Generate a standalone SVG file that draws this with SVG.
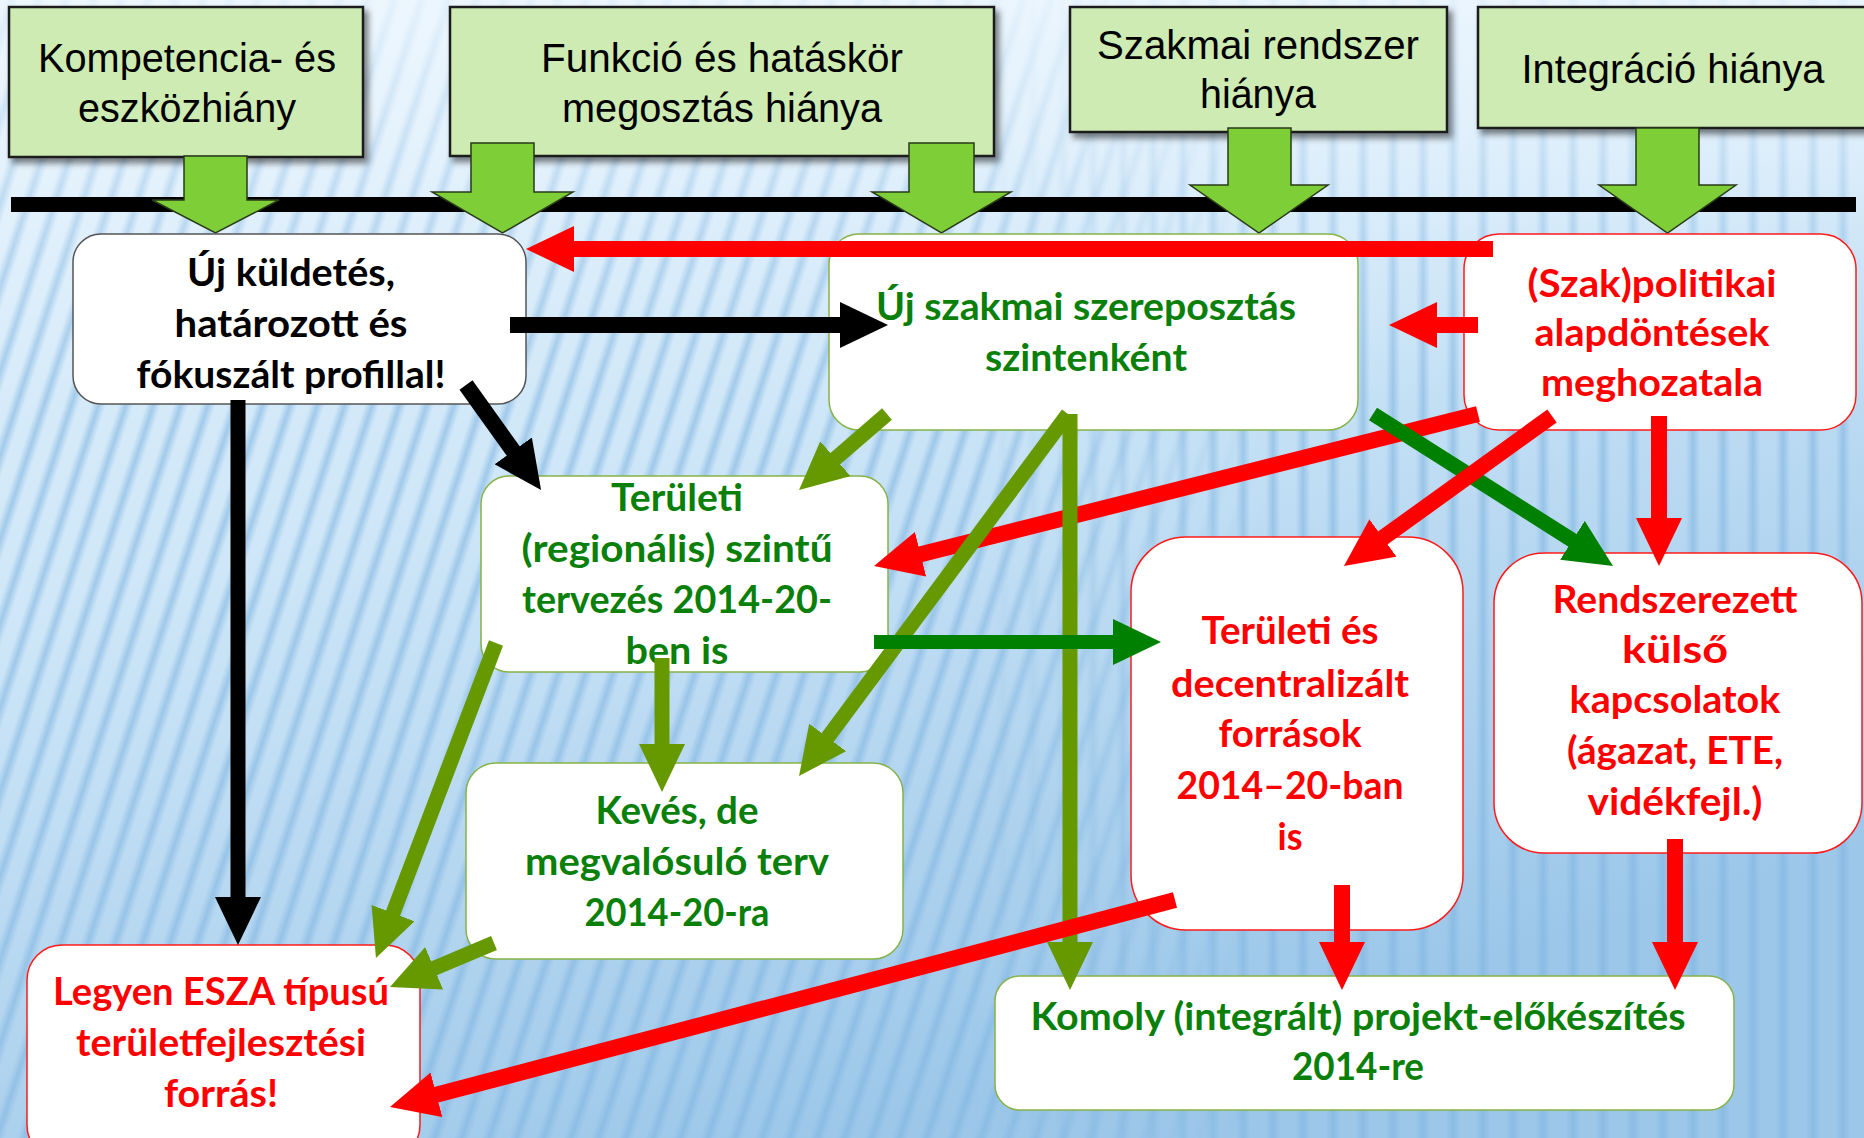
<svg xmlns="http://www.w3.org/2000/svg" width="1864" height="1138" viewBox="0 0 1864 1138">
<style>
.top{fill:#cdebb3;stroke:#1a1a1a;stroke-width:2.5;filter:url(#sh)}
.tt{font-family:"Liberation Sans",Arial,sans-serif;font-size:40px;fill:#000;text-anchor:middle}
.blk{fill:#7dce37;stroke:#2a3a1a;stroke-width:1.5}
.node{fill:#fff;stroke-width:1.5}
.gs{stroke:#86b347}
.rs{stroke:#ff1a1a}
.ks{stroke:#555}
.nt{font-family:Lato,"Open Sans",sans-serif;font-weight:bold;font-size:38px;text-anchor:middle}
.k{fill:#000}.g{fill:#0a7f0a}.r{fill:#ff0000}
.c{fill:none;stroke-linecap:butt}
.cr{stroke:#ff0000;stroke-width:16}
.ck{stroke:#000;stroke-width:16}
.co{stroke:#669900;stroke-width:15}
.cg{stroke:#008000;stroke-width:15}
</style>
<defs>
<linearGradient id="bg" x1="0" y1="0" x2="0.45" y2="1">
<stop offset="0" stop-color="#e4f2fc"/>
<stop offset="0.45" stop-color="#cfe7f8"/>
<stop offset="1" stop-color="#9cc7e9"/>
</linearGradient>
<linearGradient id="sg" x1="0" y1="0" x2="1" y2="0">
<stop offset="0" stop-color="#7fb4e0" stop-opacity="0"/>
<stop offset="0.5" stop-color="#7fb4e0" stop-opacity="0.6"/>
<stop offset="1" stop-color="#7fb4e0" stop-opacity="0"/>
</linearGradient>
<pattern id="pd" width="26" height="40" patternUnits="userSpaceOnUse" patternTransform="rotate(18)">
<rect x="4" y="0" width="14" height="40" fill="url(#sg)"/>
</pattern>
<pattern id="pv" width="30" height="40" patternUnits="userSpaceOnUse">
<rect x="6" y="0" width="14" height="40" fill="url(#sg)"/>
</pattern>
<linearGradient id="mg" x1="0" y1="0" x2="1" y2="0">
<stop offset="0" stop-color="#fff"/>
<stop offset="0.52" stop-color="#fff"/>
<stop offset="0.68" stop-color="#000"/>
<stop offset="1" stop-color="#000"/>
</linearGradient>
<linearGradient id="mg2" x1="0" y1="0" x2="1" y2="0">
<stop offset="0" stop-color="#000"/>
<stop offset="0.52" stop-color="#000"/>
<stop offset="0.68" stop-color="#fff"/>
<stop offset="1" stop-color="#fff"/>
</linearGradient>
<mask id="m1"><rect width="1864" height="1138" fill="url(#mg)"/></mask>
<mask id="m2"><rect width="1864" height="1138" fill="url(#mg2)"/></mask>
<linearGradient id="topfade" x1="0" y1="0" x2="0" y2="1">
<stop offset="0" stop-color="#eef7fe" stop-opacity="0.85"/>
<stop offset="0.22" stop-color="#eef7fe" stop-opacity="0.2"/>
<stop offset="0.35" stop-color="#eef7fe" stop-opacity="0"/>
</linearGradient>
<filter id="sh" x="-10%" y="-10%" width="130%" height="140%">
<feDropShadow dx="4" dy="5" stdDeviation="3" flood-color="#000" flood-opacity="0.5"/>
</filter>
<marker id="ar" markerUnits="userSpaceOnUse" markerWidth="48" markerHeight="46" viewBox="0 0 48 46" refX="8" refY="23" orient="auto"><path d="M0,0 L48,23 L0,46 z" fill="#ff0000"/></marker>
<marker id="ak" markerUnits="userSpaceOnUse" markerWidth="48" markerHeight="46" viewBox="0 0 48 46" refX="8" refY="23" orient="auto"><path d="M0,0 L48,23 L0,46 z" fill="#000"/></marker>
<marker id="ao" markerUnits="userSpaceOnUse" markerWidth="48" markerHeight="46" viewBox="0 0 48 46" refX="8" refY="23" orient="auto"><path d="M0,0 L48,23 L0,46 z" fill="#669900"/></marker>
<marker id="ag" markerUnits="userSpaceOnUse" markerWidth="48" markerHeight="46" viewBox="0 0 48 46" refX="8" refY="23" orient="auto"><path d="M0,0 L48,23 L0,46 z" fill="#008000"/></marker>
</defs>

<g id="background">
<rect width="1864" height="1138" fill="url(#bg)"/>
<rect width="1864" height="1138" fill="url(#pd)" mask="url(#m1)"/>
<rect width="1864" height="1138" fill="url(#pv)" mask="url(#m2)"/>
<rect width="1864" height="1138" fill="url(#topfade)"/>
</g>

<g id="causes">
<g id="cause-kompetencia">
<rect class="top" x="9" y="7" width="354" height="150"/>
<text class="tt" x="187" y="72" textLength="298" lengthAdjust="spacingAndGlyphs">Kompetencia- és</text>
<text class="tt" x="187" y="122" textLength="218" lengthAdjust="spacingAndGlyphs">eszközhiány</text>
</g>
<g id="cause-funkcio">
<rect class="top" x="450" y="7" width="544" height="149"/>
<text class="tt" x="722" y="72" textLength="362" lengthAdjust="spacingAndGlyphs">Funkció és hatáskör</text>
<text class="tt" x="722" y="122" textLength="320" lengthAdjust="spacingAndGlyphs">megosztás hiánya</text>
</g>
<g id="cause-szakmai">
<rect class="top" x="1070" y="7" width="377" height="125"/>
<text class="tt" x="1258" y="59" textLength="322" lengthAdjust="spacingAndGlyphs">Szakmai rendszer</text>
<text class="tt" x="1258" y="108" textLength="116" lengthAdjust="spacingAndGlyphs">hiánya</text>
</g>
<g id="cause-integracio">
<rect class="top" x="1478" y="7" width="400" height="121"/>
<text class="tt" x="1673" y="83" textLength="303" lengthAdjust="spacingAndGlyphs">Integráció hiánya</text>
</g>
</g>

<g id="bar">
<rect x="11" y="197" width="1845" height="15" fill="#000"/>
</g>

<g id="block-arrows">
<polygon class="blk" points="184,156 247,156 247,200 279,200 215.5,233 152,200 184,200"/>
<polygon class="blk" points="471,143 534,143 534,192 573,192 502.5,233 432,192 471,192"/>
<polygon class="blk" points="909,143 974,143 974,192 1011,192 941.5,233 872,192 909,192"/>
<polygon class="blk" points="1228,128 1291,128 1291,185 1328,185 1259,233 1190,185 1228,185"/>
<polygon class="blk" points="1636,128 1699,128 1699,185 1736,185 1667.5,233 1599,185 1636,185"/>
</g>

<g id="n1">
<rect class="node ks" x="73" y="234" width="453" height="170" rx="28"/>
<text class="nt k" x="291" y="286" textLength="208" lengthAdjust="spacingAndGlyphs">Új küldetés,</text>
<text class="nt k" x="291" y="337" textLength="233" lengthAdjust="spacingAndGlyphs">határozott és</text>
<text class="nt k" x="291" y="388" textLength="309" lengthAdjust="spacingAndGlyphs">fókuszált profillal!</text>
</g>
<g id="n2">
<rect class="node gs" x="829" y="234" width="529" height="196" rx="30"/>
<text class="nt g" x="1086" y="320" textLength="420" lengthAdjust="spacingAndGlyphs">Új szakmai szereposztás</text>
<text class="nt g" x="1086" y="371" textLength="202" lengthAdjust="spacingAndGlyphs">szintenként</text>
</g>
<g id="n3">
<rect class="node rs" x="1464" y="234" width="392" height="196" rx="35"/>
<text class="nt r" x="1652" y="297" textLength="249" lengthAdjust="spacingAndGlyphs">(Szak)politikai</text>
<text class="nt r" x="1652" y="346" textLength="235" lengthAdjust="spacingAndGlyphs">alapdöntések</text>
<text class="nt r" x="1652" y="396" textLength="222" lengthAdjust="spacingAndGlyphs">meghozatala</text>
</g>
<g id="n4">
<rect class="node gs" x="481" y="476" width="407" height="196" rx="28"/>
<text class="nt g" x="677" y="511" textLength="132" lengthAdjust="spacingAndGlyphs">Területi</text>
<text class="nt g" x="677" y="562" textLength="311" lengthAdjust="spacingAndGlyphs">(regionális) szintű</text>
<text class="nt g" x="677" y="613" textLength="310" lengthAdjust="spacingAndGlyphs">tervezés 2014-20-</text>
<text class="nt g" x="677" y="664" textLength="103" lengthAdjust="spacingAndGlyphs">ben is</text>
</g>
<g id="n5">
<rect class="node gs" x="466" y="763" width="437" height="196" rx="30"/>
<text class="nt g" x="677" y="824" textLength="163" lengthAdjust="spacingAndGlyphs">Kevés, de</text>
<text class="nt g" x="677" y="875" textLength="304" lengthAdjust="spacingAndGlyphs">megvalósuló terv</text>
<text class="nt g" x="677" y="926" textLength="185" lengthAdjust="spacingAndGlyphs">2014-20-ra</text>
</g>
<g id="n6">
<rect class="node rs" x="27" y="945" width="393" height="215" rx="35"/>
<text class="nt r" x="221" y="1005" textLength="336" lengthAdjust="spacingAndGlyphs">Legyen ESZA típusú</text>
<text class="nt r" x="221" y="1056" textLength="290" lengthAdjust="spacingAndGlyphs">területfejlesztési</text>
<text class="nt r" x="221" y="1107" textLength="114" lengthAdjust="spacingAndGlyphs">forrás!</text>
</g>
<g id="n7">
<rect class="node rs" x="1131" y="537" width="332" height="393" rx="55"/>
<text class="nt r" x="1290" y="644" textLength="177" lengthAdjust="spacingAndGlyphs">Területi és</text>
<text class="nt r" x="1290" y="697" textLength="238" lengthAdjust="spacingAndGlyphs">decentralizált</text>
<text class="nt r" x="1290" y="747" textLength="143" lengthAdjust="spacingAndGlyphs">források</text>
<text class="nt r" x="1290" y="799" textLength="227" lengthAdjust="spacingAndGlyphs">2014–20-ban</text>
<text class="nt r" x="1290" y="850" textLength="25" lengthAdjust="spacingAndGlyphs">is</text>
</g>
<g id="n8">
<rect class="node rs" x="1494" y="553" width="368" height="300" rx="50"/>
<text class="nt r" x="1675" y="613" textLength="245" lengthAdjust="spacingAndGlyphs">Rendszerezett</text>
<text class="nt r" x="1675" y="663" textLength="106" lengthAdjust="spacingAndGlyphs">külső</text>
<text class="nt r" x="1675" y="713" textLength="211" lengthAdjust="spacingAndGlyphs">kapcsolatok</text>
<text class="nt r" x="1675" y="764" textLength="216" lengthAdjust="spacingAndGlyphs">(ágazat, ETE,</text>
<text class="nt r" x="1675" y="815" textLength="175" lengthAdjust="spacingAndGlyphs">vidékfejl.)</text>
</g>
<g id="n9">
<rect class="node gs" x="995" y="976" width="739" height="134" rx="25"/>
<text class="nt g" x="1358" y="1030" textLength="655" lengthAdjust="spacingAndGlyphs">Komoly (integrált) projekt-előkészítés</text>
<text class="nt g" x="1358" y="1080" textLength="132" lengthAdjust="spacingAndGlyphs">2014-re</text>
</g>

<g id="connectors">
<line class="c cr" x1="1493" y1="249" x2="566" y2="249" marker-end="url(#ar)"/>
<line class="c ck" x1="510" y1="325" x2="848" y2="325" marker-end="url(#ak)"/>
<line class="c cr" x1="1478" y1="325" x2="1429" y2="325" marker-end="url(#ar)"/>
<line class="c ck" x1="466" y1="385" x2="517.8" y2="457.4" marker-end="url(#ak)"/>
<line class="c ck" x1="238" y1="400" x2="238" y2="905" marker-end="url(#ak)" style="stroke-width:15"/>
<line class="c co" x1="887" y1="414" x2="829.3" y2="463.9" marker-end="url(#ao)"/>
<line class="c cr" x1="1478" y1="414" x2="912.8" y2="556.2" marker-end="url(#ar)"/>
<line class="c co" x1="1068" y1="414" x2="822.9" y2="743.9" marker-end="url(#ao)"/>
<line class="c co" x1="1070" y1="414" x2="1070" y2="950" marker-end="url(#ao)"/>
<line class="c cg" x1="1373" y1="414" x2="1579.2" y2="544.6" marker-end="url(#ag)"/>
<line class="c cr" x1="1552" y1="416" x2="1376.4" y2="542.6" marker-end="url(#ar)"/>
<line class="c cr" x1="1659" y1="416" x2="1659" y2="526" marker-end="url(#ar)"/>
<line class="c cg" x1="874" y1="642" x2="1121" y2="642" marker-end="url(#ag)" style="stroke-width:14"/>
<line class="c co" x1="662" y1="658" x2="662" y2="752" marker-end="url(#ao)"/>
<line class="c co" x1="496" y1="643" x2="390.2" y2="920.6" marker-end="url(#ao)"/>
<line class="c co" x1="494" y1="943" x2="426.8" y2="971.4" marker-end="url(#ao)"/>
<line class="c cr" x1="1175" y1="900" x2="428.7" y2="1096.8" marker-end="url(#ar)"/>
<line class="c cr" x1="1342" y1="885" x2="1342" y2="950" marker-end="url(#ar)"/>
<line class="c cr" x1="1675" y1="839" x2="1675" y2="950" marker-end="url(#ar)"/>
</g>
</svg>
